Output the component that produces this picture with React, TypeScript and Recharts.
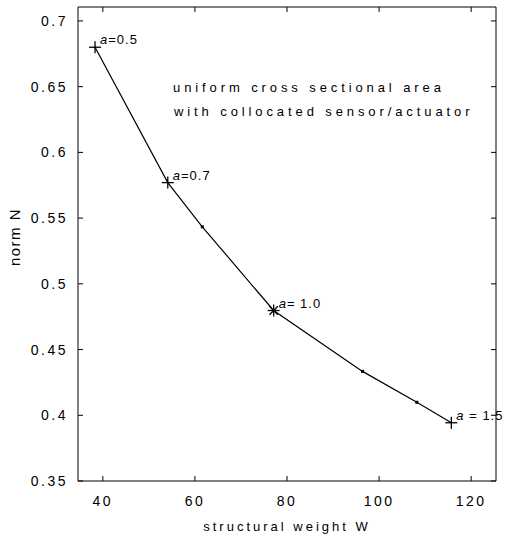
import React from "react";
import { Label, Line, LineChart, XAxis, YAxis } from "recharts";

// structural weight W vs norm N, uniform cross section
const weights = [38.3, 54.1, 61.6, 77.1, 96.4, 108.2, 115.7];
const normN = [0.68, 0.577, 0.5434, 0.4797, 0.4334, 0.4099, 0.3943];
const markers = ["plus", "plus", "dot", "star", "dot", "dot", "plus"];
const pointLabels = ["a=0.5", "a=0.7", "", "a= 1.0", "", "", "a = 1.5"];

const xTicks = [40, 60, 80, 100, 120];
const yTicks = [0.35, 0.4, 0.45, 0.5, 0.55, 0.6, 0.65, 0.7];

const note = ["uniform cross sectional area", "with collocated sensor/actuator"];

const data = weights.map((w, i) => ({ w, n: normN[i] }));

const FONT = "'Liberation Sans', Arial, sans-serif";
const INK = "#000";
const X_DOMAIN = [34.6, 125.4];
const Y_DOMAIN = [0.35, 0.7106];

function Marker(props: any) {
  const { cx, cy, index } = props;
  if (cx == null || cy == null) return <g />;
  const kind = markers[index];
  if (kind === "dot") {
    return <rect x={cx - 1.5} y={cy - 1.5} width={3} height={3} fill={INK} />;
  }
  const r = 6;
  if (kind === "star") {
    const d = r * 0.7;
    return (
      <g stroke={INK} strokeWidth={1.3}>
        <line x1={cx - r} y1={cy} x2={cx + r} y2={cy} />
        <line x1={cx} y1={cy - r} x2={cx} y2={cy + r} />
        <line x1={cx - d} y1={cy - d} x2={cx + d} y2={cy + d} />
        <line x1={cx - d} y1={cy + d} x2={cx + d} y2={cy - d} />
      </g>
    );
  }
  return (
    <g stroke={INK} strokeWidth={1.3}>
      <line x1={cx - r} y1={cy} x2={cx + r} y2={cy} />
      <line x1={cx} y1={cy - r} x2={cx} y2={cy + r} />
    </g>
  );
}

function PointLabel(props: any) {
  const { x, y, index } = props;
  const txt = pointLabels[index];
  if (!txt) return <g />;
  return (
    <text
      x={x + 5}
      y={y - 3}
      fontFamily={FONT}
      fontSize={13}
      letterSpacing={1}
      fill={INK}
    >
      <tspan fontStyle="italic">{txt[0]}</tspan>
      {txt.slice(1)}
    </text>
  );
}

function YTitle() {
  return (
    <text
      x={14}
      y={237}
      transform="rotate(-90 14 237)"
      textAnchor="middle"
      dominantBaseline="central"
      fontFamily={FONT}
      fontSize={15}
      letterSpacing={1.5}
      fill={INK}
    >
      norm N
    </text>
  );
}

function Note() {
  return (
    <text fontFamily={FONT} fontSize={13} letterSpacing={3.9} fill={INK}>
      <tspan x={173} y={92}>
        {note[0]}
      </tspan>
      <tspan x={174} y={116}>
        {note[1]}
      </tspan>
    </text>
  );
}

const tickStyle = { fontFamily: FONT, fontSize: 14, letterSpacing: 2.5, fill: INK };
const noTick = () => <g />;

export default function App() {
  return (
    <div style={{ position: "absolute", left: 0, top: 0, background: "#fff" }}>
      <LineChart
        width={507}
        height={536}
        data={data}
        margin={{ top: 6, right: 10, bottom: 0, left: 0 }}
      >
        <XAxis
          dataKey="w"
          type="number"
          domain={X_DOMAIN}
          ticks={xTicks}
          height={55}
          tickSize={-5}
          tickMargin={20}
          tick={tickStyle}
          axisLine={{ stroke: INK }}
          tickLine={{ stroke: INK }}
          allowDataOverflow
        >
          <Label
            value="structural weight W"
            position="insideBottom"
            offset={5}
            style={{ fontFamily: FONT, fontSize: 13, letterSpacing: 3, fill: INK }}
          />
        </XAxis>
        <XAxis
          xAxisId="top"
          dataKey="w"
          orientation="top"
          type="number"
          domain={X_DOMAIN}
          ticks={xTicks}
          height={1}
          tickSize={-5}
          tick={noTick}
          axisLine={{ stroke: INK }}
          tickLine={{ stroke: INK }}
          allowDataOverflow
        />
        <YAxis
          type="number"
          domain={Y_DOMAIN}
          ticks={yTicks}
          width={78}
          tickSize={-5}
          tickMargin={15}
          tick={tickStyle}
          axisLine={{ stroke: INK }}
          tickLine={{ stroke: INK }}
          allowDataOverflow
        >
          <Label content={<YTitle />} />
          <Label content={<Note />} />
        </YAxis>
        <YAxis
          yAxisId="right"
          orientation="right"
          type="number"
          domain={Y_DOMAIN}
          ticks={yTicks}
          width={1}
          tickSize={-5}
          tick={noTick}
          axisLine={{ stroke: INK }}
          tickLine={{ stroke: INK }}
          allowDataOverflow
        />
        {/* invisible series so the frame axes on top/right get drawn */}
        <Line
          xAxisId="top"
          yAxisId="right"
          dataKey="n"
          stroke="none"
          dot={false}
          activeDot={false}
          legendType="none"
          isAnimationActive={false}
        />
        <Line
          dataKey="n"
          type="linear"
          stroke={INK}
          strokeWidth={1.2}
          dot={<Marker />}
          activeDot={false}
          label={<PointLabel />}
          isAnimationActive={false}
        />
      </LineChart>
    </div>
  );
}
